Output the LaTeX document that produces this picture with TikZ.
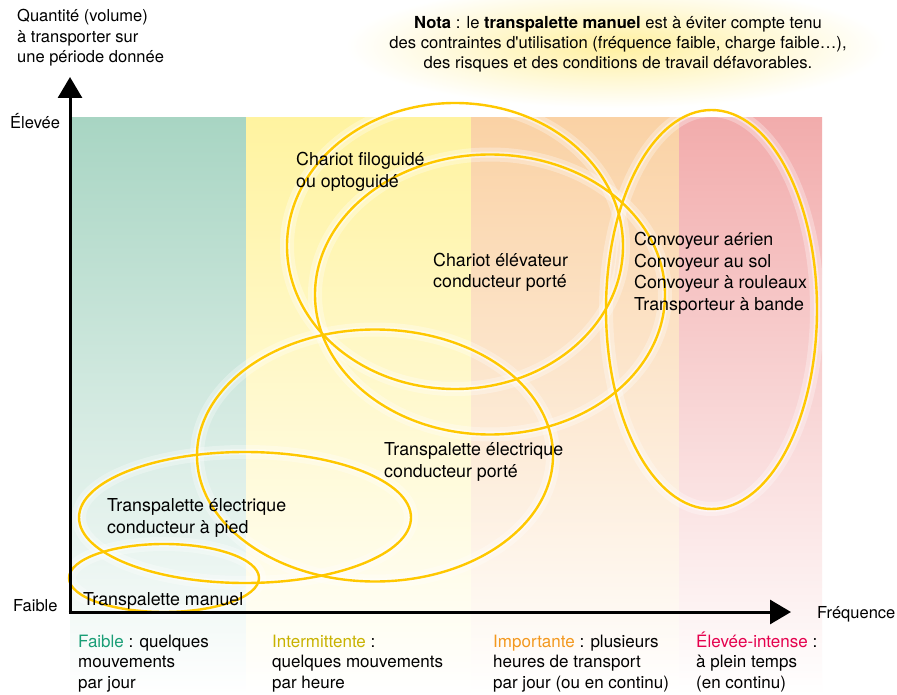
\documentclass[tikz,border=0pt]{standalone}
\usepackage{fontspec}
\setmainfont{TeX Gyre Heros}
\usetikzlibrary{arrows.meta}
\definecolor{bgreen}{RGB}{168,213,195}
\definecolor{byellow}{RGB}{255,243,160}
\definecolor{borange}{RGB}{250,210,165}
\definecolor{bpink}{RGB}{242,172,172}
\definecolor{ellcol}{RGB}{255,200,0}
\definecolor{tgreen}{RGB}{26,158,118}
\definecolor{tyellow}{RGB}{200,178,0}
\definecolor{torange}{RGB}{243,152,30}
\definecolor{tred}{RGB}{229,0,77}
\definecolor{notaglow}{RGB}{255,240,160}
\newcommand{\straightap}{{\addfontfeatures{Ligatures=TeXOff}'}}
\begin{document}
\begin{tikzpicture}[x=1pt,y=-1pt,
  lbl/.style={anchor=base west, inner sep=0pt, align=left, font=\fontsize{17.8}{21.5}\selectfont},
  axlbl/.style={anchor=base west, inner sep=0pt, align=left, font=\fontsize{16.5}{20.5}\selectfont},
  botlbl/.style={anchor=base west, inner sep=0pt, align=left, font=\fontsize{17}{20.5}\selectfont},
  notalbl/.style={anchor=base, inner sep=0pt, align=center, font=\fontsize{16.6}{20.2}\selectfont},
  glowA/.style={draw=white, line width=14pt, opacity=0.3},
  glowB/.style={draw=white, line width=6pt, opacity=0.45},
  ell/.style={draw=ellcol, line width=2.4pt},
  axis/.style={line width=3pt, -{Triangle[length=21pt,width=24pt]}}]
\useasboundingbox (0,0) rectangle (897,695);
\fill[white] (0,0) rectangle (897,695);
% glow behind the note
\shade[inner color=notaglow, outer color=white] (616,46) ellipse [x radius=270pt, y radius=62pt];
% frequency bands
\shade[top color=bgreen, bottom color=white] (70,118) rectangle (246,695);
\shade[top color=byellow, bottom color=white] (246,118) rectangle (471,695);
\shade[top color=borange, bottom color=white] (471,118) rectangle (679,695);
\shade[top color=bpink, bottom color=white] (679,118) rectangle (822,695);
% ellipse glows
\foreach \c/\rx/\ry in {{(164,578)}/95/34, {(245,517.5)}/166/65.5, {(375,455.5)}/178/126, {(455,246)}/168/143, {(490,294.5)}/175/140, {(711.5,309.5)}/105.5/199.5}{
  \draw[glowA] \c ellipse [x radius=\rx pt, y radius=\ry pt];
  \draw[glowB] \c ellipse [x radius=\rx pt, y radius=\ry pt];
}
% ellipses
\draw[ell] (164,578) ellipse [x radius=95pt, y radius=34pt];
\draw[ell] (245,517.5) ellipse [x radius=166pt, y radius=65.5pt];
\draw[ell] (375,455.5) ellipse [x radius=178pt, y radius=126pt];
\draw[ell] (455,246) ellipse [x radius=168pt, y radius=143pt];
\draw[ell] (490,294.5) ellipse [x radius=175pt, y radius=140pt];
\draw[ell] (711.5,309.5) ellipse [x radius=105.5pt, y radius=199.5pt];
% labels in ellipses (anchor = baseline of last line)
\node[lbl] (filo) at (296,187.5) {Chariot filoguidé\\ou optoguidé};
\node[lbl] (elev) at (433,287.5) {Chariot élévateur\\conducteur porté};
\node[lbl] (conv) at (634,310) {Convoyeur aérien\\Convoyeur au sol\\Convoyeur à rouleaux\\Transporteur à bande};
\node[lbl] (tporte) at (384,477) {Transpalette électrique\\conducteur porté};
\node[lbl] (tpied) at (107,533) {Transpalette électrique\\conducteur à pied};
\node[lbl] (tman) at (83,605) {Transpalette manuel};
% note
\node[notalbl] (nota) at (618,68.5) {\textbf{Nota} : le \textbf{transpalette manuel} est à éviter compte tenu\\des contraintes d\straightap utilisation (fréquence faible, charge faible…),\\des risques et des conditions de travail défavorables.};
% axes
\coordinate (O) at (70,612);
\coordinate (Ytip) at (70,77);
\coordinate (Xtip) at (791,612);
\draw[axis] ([yshift=-1.5pt]O) -- (Ytip);
\draw[axis] ([xshift=-1.5pt]O) -- (Xtip);
% axis labels
\node[axlbl] (qty) at (17,63) {Quantité (volume)\\à transporter sur\\une période donnée};
\node[axlbl] (high) at (10,129) {Élevée};
\node[axlbl] (low) at (13,611) {Faible};
\node[axlbl] (freq) at (817,618) {Fréquence};
% frequency classes
\node[botlbl] (f1) at (78,688) {\textcolor{tgreen}{Faible} : quelques\\mouvements\\par jour};
\node[botlbl] (f2) at (272,688) {\textcolor{tyellow}{Intermittente} :\\quelques mouvements\\par heure};
\node[botlbl] (f3) at (493,688) {\textcolor{torange}{Importante} : plusieurs\\heures de transport\\par jour (ou en continu)};
\node[botlbl] (f4) at (696,688) {\textcolor{tred}{Élevée-intense} :\\à plein temps\\(en continu)};
\end{tikzpicture}
\end{document}
